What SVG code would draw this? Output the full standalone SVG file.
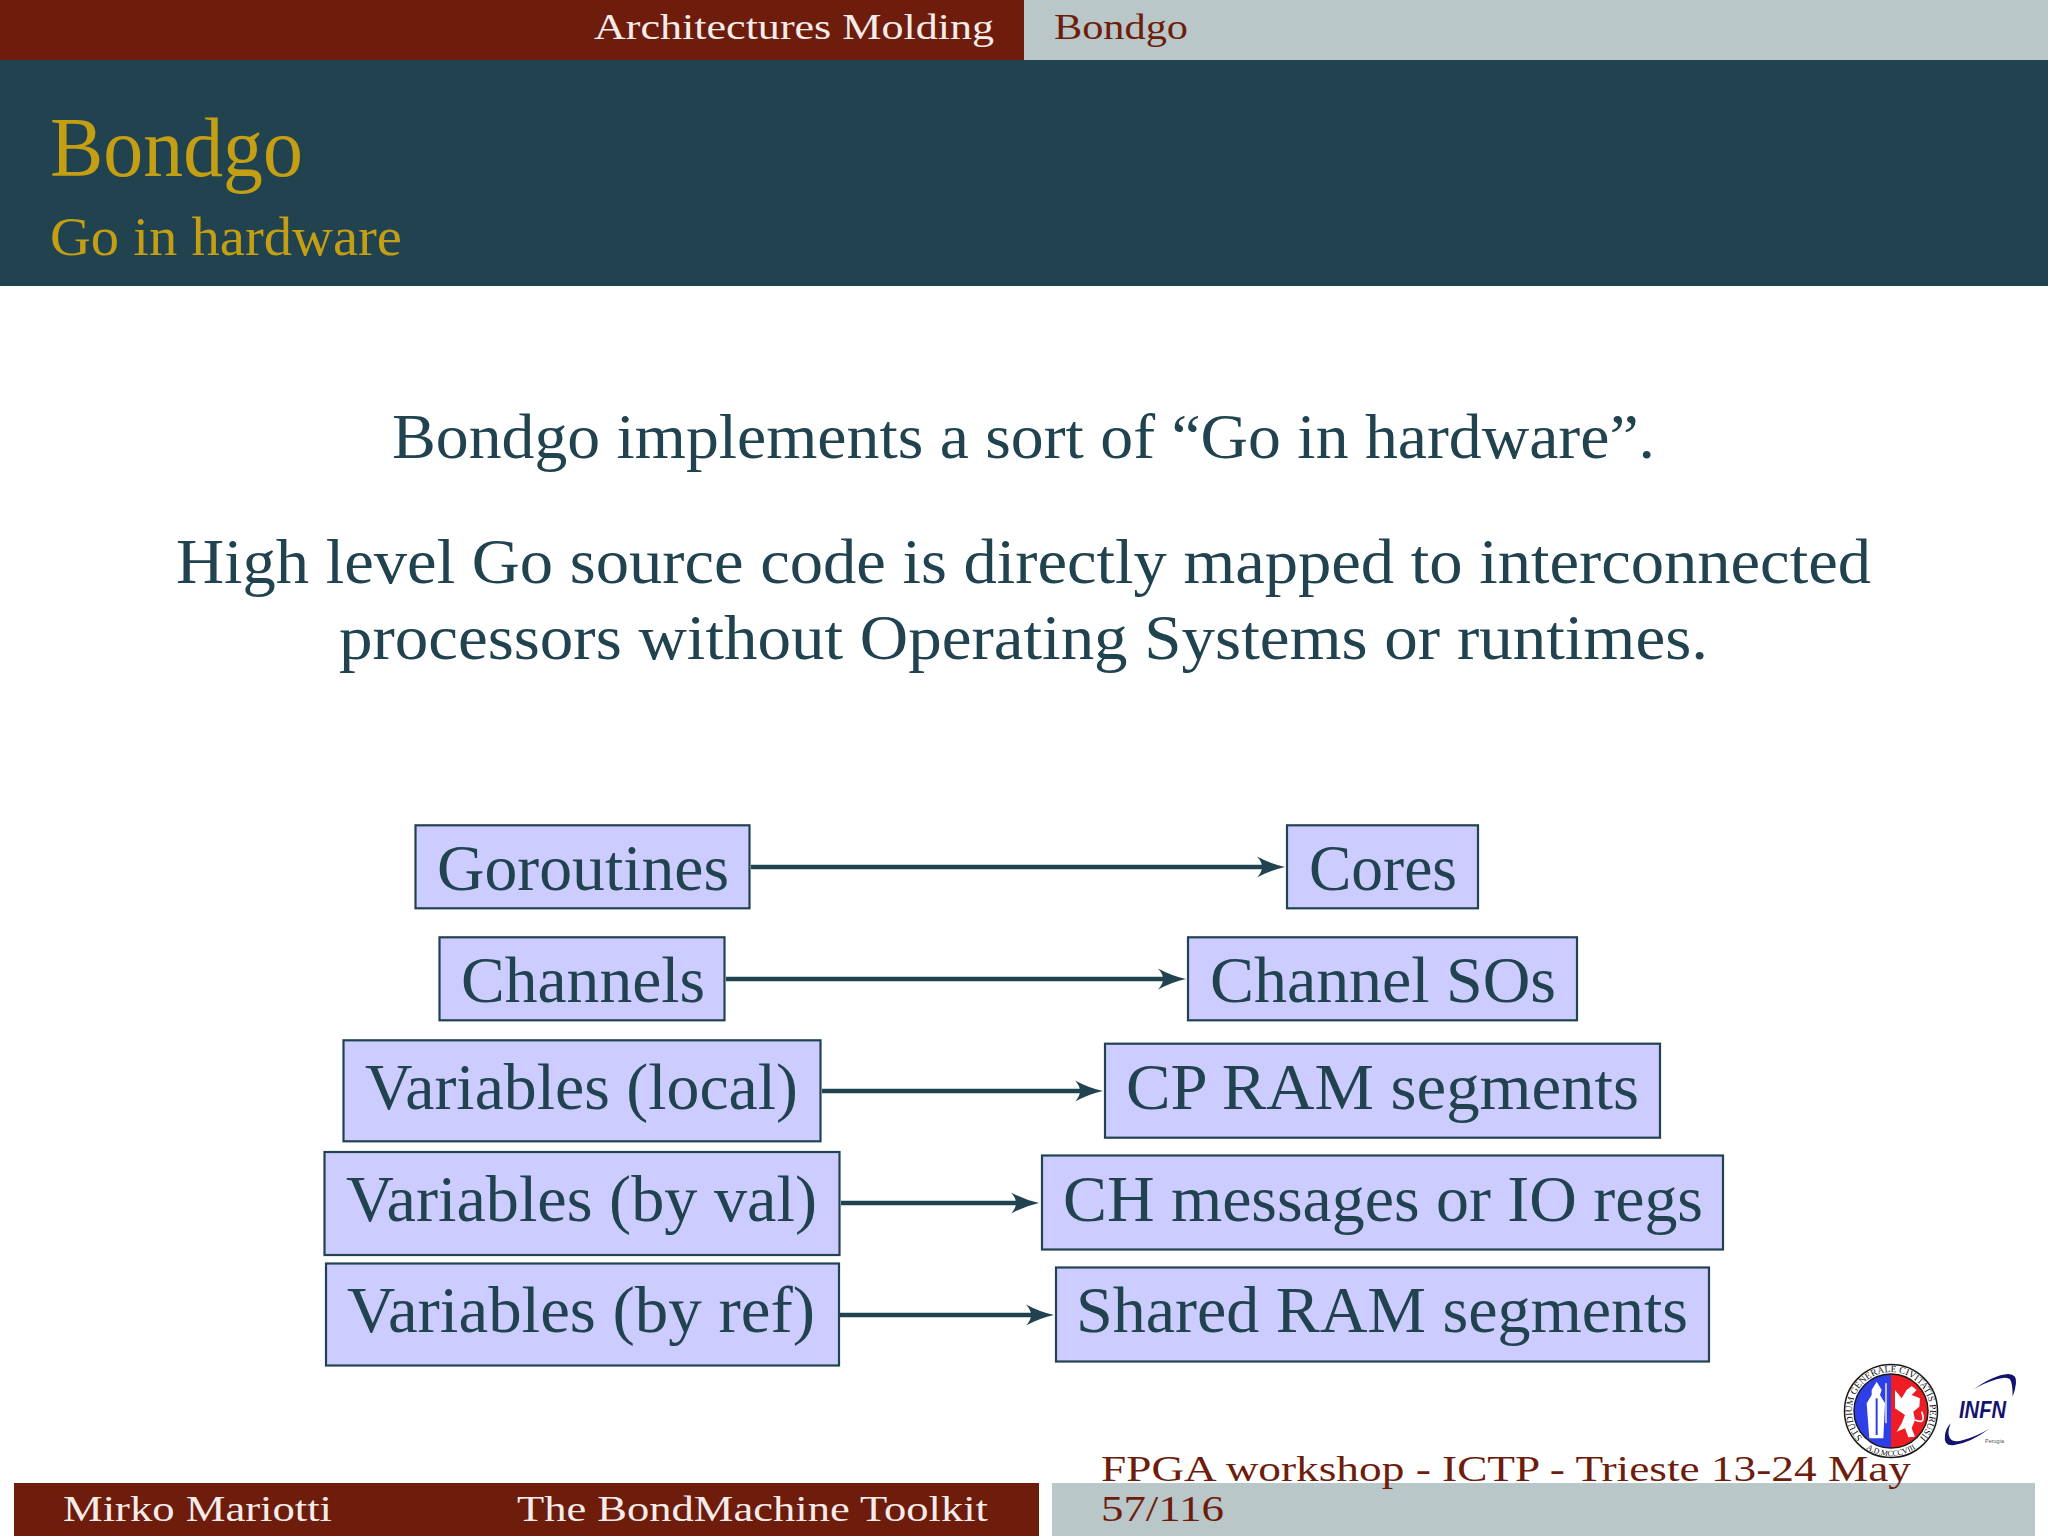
<svg xmlns="http://www.w3.org/2000/svg" width="2048" height="1536" viewBox="0 0 2048 1536">
<style>
text{font-family:"Liberation Serif","Times New Roman",serif}
.box{fill:#ccccff;stroke:#21434f;stroke-width:2.200}
.bt{font-size:66px;fill:#21434f}
.body{font-size:63px;fill:#21434f}
.tw{font-size:35px;fill:#f5ecea}
.tr{font-size:35px;fill:#6e1c0c}
.gold{fill:#c49f14}
.conn{stroke:#21434f;stroke-width:4.500;fill:none;marker-end:url(#ah)}
</style>
<defs>
<marker id="ah" markerUnits="userSpaceOnUse" markerWidth="30" markerHeight="24" refX="16" refY="11" orient="auto"><path d="M0 .5Q14 8 28 11Q14 14 0 21.500Q10 11 0 .5Z" fill="#21434f"/></marker>
<path id="seal-top" d="M1891 1450a39 39 0 1 1 0 -78a39 39 0 1 1 0 78"/>
<path id="seal-bot" d="M1846 1411a45 45 0 0 0 90 0"/>
</defs>
<rect width="2048" height="1536" fill="#fff"/>
<g id="top-bar">
<rect width="1024" height="60" fill="#6e1c0c"/><rect x="1024" width="1024" height="60" fill="#b9c7c8"/>
<text class="tw" x="594" y="39" textLength="400" lengthAdjust="spacingAndGlyphs">Architectures Molding</text>
<text class="tr" x="1054" y="39" textLength="134" lengthAdjust="spacingAndGlyphs">Bondgo</text>
</g>
<g id="title-bar">
<rect y="60" width="2048" height="226" fill="#21434f"/>
<text class="gold" x="50" y="176" font-size="85" textLength="253" lengthAdjust="spacingAndGlyphs">Bondgo</text>
<text class="gold" x="50" y="255" font-size="54" textLength="352" lengthAdjust="spacingAndGlyphs">Go in hardware</text>
</g>
<g id="body-text">
<text class="body" x="392" y="458" textLength="1263" lengthAdjust="spacingAndGlyphs">Bondgo implements a sort of “Go in hardware”.</text>
<text class="body" x="176" y="583" textLength="1695" lengthAdjust="spacingAndGlyphs">High level Go source code is directly mapped to interconnected</text>
<text class="body" x="339" y="659" textLength="1369" lengthAdjust="spacingAndGlyphs">processors without Operating Systems or runtimes.</text>
</g>
<g id="connectors">
<path class="conn" d="M751 867H1273"/>
<path class="conn" d="M726 979H1174"/>
<path class="conn" d="M822 1091H1091"/>
<path class="conn" d="M841 1203H1027"/>
<path class="conn" d="M840 1315H1042"/>
</g>
<g id="n-goroutines"><rect class="box" x="415.500" y="825.300" width="334" height="83"/><text class="bt" x="437" y="890" textLength="292" lengthAdjust="spacingAndGlyphs">Goroutines</text></g>
<g id="n-channels"><rect class="box" x="439.500" y="937.300" width="285" height="83"/><text class="bt" x="461" y="1002" textLength="244" lengthAdjust="spacingAndGlyphs">Channels</text></g>
<g id="n-var-local"><rect class="box" x="343.500" y="1040.300" width="477" height="101"/><text class="bt" x="365" y="1108.500" textLength="433" lengthAdjust="spacingAndGlyphs">Variables (local)</text></g>
<g id="n-var-val"><rect class="box" x="324.500" y="1152" width="515" height="103"/><text class="bt" x="346" y="1220.500" textLength="471" lengthAdjust="spacingAndGlyphs">Variables (by val)</text></g>
<g id="n-var-ref"><rect class="box" x="326" y="1263.500" width="513" height="102"/><text class="bt" x="347" y="1332" textLength="468" lengthAdjust="spacingAndGlyphs">Variables (by ref)</text></g>
<g id="n-cores"><rect class="box" x="1287" y="825.300" width="191" height="83"/><text class="bt" x="1309" y="890" textLength="148" lengthAdjust="spacingAndGlyphs">Cores</text></g>
<g id="n-channel-sos"><rect class="box" x="1188" y="937.300" width="389" height="83"/><text class="bt" x="1210" y="1002" textLength="346" lengthAdjust="spacingAndGlyphs">Channel SOs</text></g>
<g id="n-cp-ram"><rect class="box" x="1105" y="1043.700" width="555" height="94"/><text class="bt" x="1126" y="1108.500" textLength="513" lengthAdjust="spacingAndGlyphs">CP RAM segments</text></g>
<g id="n-ch-msg"><rect class="box" x="1042" y="1155.500" width="681" height="94"/><text class="bt" x="1063" y="1220.500" textLength="640" lengthAdjust="spacingAndGlyphs">CH messages or IO regs</text></g>
<g id="n-shared"><rect class="box" x="1056" y="1267.500" width="653" height="94"/><text class="bt" x="1076" y="1332" textLength="612" lengthAdjust="spacingAndGlyphs">Shared RAM segments</text></g>
<g id="footer">
<rect x="14" y="1483" width="1025" height="53" fill="#6e1c0c"/><rect x="1052" y="1483" width="983" height="53" fill="#b9c7c8"/>
<text class="tw" x="63" y="1521" textLength="269" lengthAdjust="spacingAndGlyphs">Mirko Mariotti</text>
<text class="tw" x="517" y="1521" textLength="471" lengthAdjust="spacingAndGlyphs">The BondMachine Toolkit</text>
<text class="tr" x="1101" y="1481" textLength="810" lengthAdjust="spacingAndGlyphs">FPGA workshop - ICTP - Trieste 13-24 May</text>
<text class="tr" x="1101" y="1521" textLength="123" lengthAdjust="spacingAndGlyphs">57/116</text>
</g>
<g id="logo-seal">
<circle cx="1891" cy="1411" r="46.500" fill="#fff" stroke="#1a1a1a" stroke-width="1.500"/>
<path d="M1891 1374a37 37 0 0 0 0 74Z" fill="#2f3fe8"/>
<path d="M1891 1374a37 37 0 0 1 0 74Z" fill="#ee1c25"/>
<circle cx="1891" cy="1411" r="37" fill="none" stroke="#1a1a1a" stroke-width="1.500"/>
<g transform="translate(1780 1340) scale(.3333)">
<path d="M290 125L305 150L300 165L315 190L310 295H268L260 190L275 165L275 150Z" fill="#fff"/>
<path d="M290 175V285" stroke="#2f3fe8" stroke-width="6"/>
<path d="M318 130V250" stroke="#fff" stroke-width="4" fill="none"/>
<path d="M395 138L410 150L395 165L420 175L418 200L400 215L405 240L395 265L405 290L385 292L375 265L350 275L365 250L375 225L345 205L345 150L365 175L380 150Z" fill="#fff"/>
<path d="M405 240Q440 255 425 215" stroke="#fff" stroke-width="5" fill="none"/>
</g>
<text font-size="9.500" fill="#111" text-anchor="middle"><textPath href="#seal-top" startOffset="50%">STUDIUM GENERALE CIVITATIS PERUSII</textPath></text>
<text font-size="8" fill="#111" text-anchor="middle"><textPath href="#seal-bot" startOffset="50%">A.D.MCCCVIII</textPath></text>
</g>
<g id="logo-infn">
<g transform="translate(1780 1340) scale(.3333)" fill="#14146e">
<path d="M578 150Q640 105 685 102Q712 103 708 130Q706 150 698 170Q698 130 690 118Q680 108 650 118Q610 130 578 150Z"/>
<path d="M630 265Q570 310 520 316Q490 318 495 285Q498 265 512 250Q500 280 510 295Q520 310 550 300Q590 290 630 265Z"/>
</g>
<text x="1959" y="1418" font-size="24" font-weight="bold" font-style="italic" fill="#14146e" style="font-family:'Liberation Sans',sans-serif" textLength="47" lengthAdjust="spacingAndGlyphs">INFN</text>
<text x="1985" y="1443" font-size="5.500" fill="#555" style="font-family:'Liberation Sans',sans-serif">Perugia</text>
</g>
</svg>
